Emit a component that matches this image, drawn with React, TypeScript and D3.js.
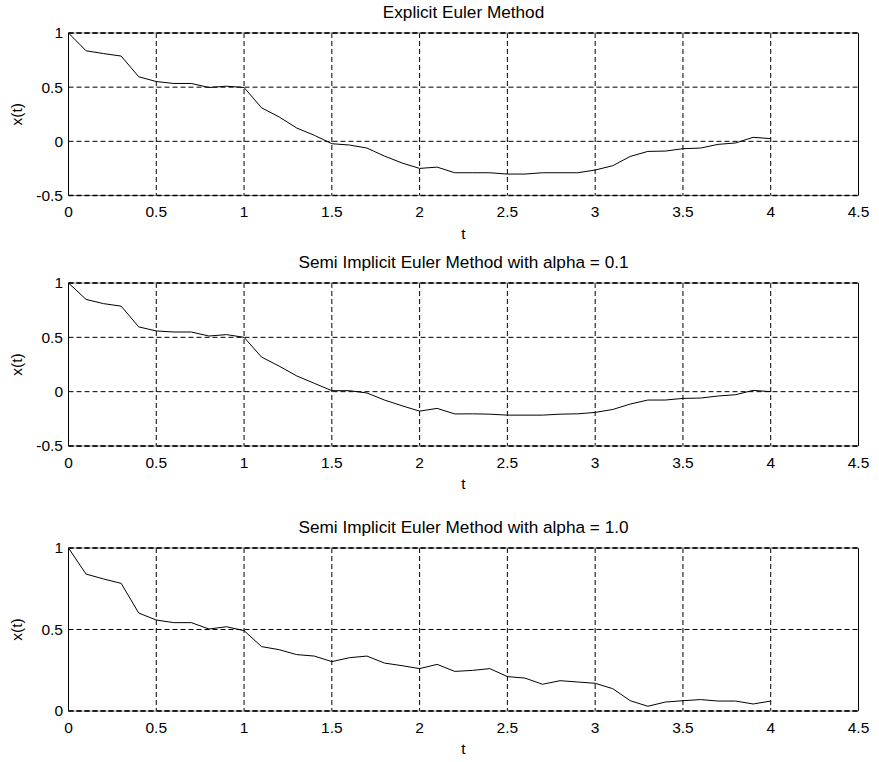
import React, { useEffect, useRef } from 'react';
import * as d3 from 'd3';

// time steps 0 .. 4.0 in steps of 0.1
const tValues = [
  0, 0.1, 0.2, 0.3, 0.4, 0.5, 0.6, 0.7, 0.8, 0.9,
  1.0, 1.1, 1.2, 1.3, 1.4, 1.5, 1.6, 1.7, 1.8, 1.9,
  2.0, 2.1, 2.2, 2.3, 2.4, 2.5, 2.6, 2.7, 2.8, 2.9,
  3.0, 3.1, 3.2, 3.3, 3.4, 3.5, 3.6, 3.7, 3.8, 3.9, 4.0
];

const explicitEuler = [
  1.0, 0.836, 0.81, 0.787, 0.596, 0.552, 0.534, 0.534, 0.497, 0.509,
  0.497, 0.309, 0.225, 0.123, 0.056, -0.022, -0.034, -0.062, -0.136, -0.2,
  -0.25, -0.238, -0.29, -0.29, -0.29, -0.302, -0.302, -0.29, -0.29, -0.29,
  -0.265, -0.225, -0.139, -0.093, -0.09, -0.068, -0.062, -0.028, -0.015, 0.037, 0.025
];

const semiImplicit01 = [
  1.0, 0.849, 0.81, 0.787, 0.596, 0.559, 0.549, 0.549, 0.512, 0.525,
  0.5, 0.318, 0.235, 0.145, 0.077, 0.009, 0.009, -0.012, -0.077, -0.13,
  -0.179, -0.154, -0.205, -0.204, -0.207, -0.216, -0.216, -0.216, -0.207, -0.204,
  -0.191, -0.164, -0.114, -0.077, -0.077, -0.062, -0.059, -0.04, -0.028, 0.012, 0.0
];

const semiImplicit10 = [
  1.0, 0.84, 0.81, 0.783, 0.601, 0.558, 0.542, 0.542, 0.503, 0.517,
  0.493, 0.395, 0.376, 0.346, 0.337, 0.303, 0.327, 0.337, 0.294, 0.278,
  0.26, 0.286, 0.243, 0.249, 0.26, 0.211, 0.202, 0.164, 0.186, 0.178,
  0.17, 0.137, 0.063, 0.029, 0.055, 0.063, 0.07, 0.061, 0.061, 0.043, 0.061
];

const xTicks = [0, 0.5, 1, 1.5, 2, 2.5, 3, 3.5, 4, 4.5];
const yTicksSigned = [-0.5, 0, 0.5, 1];
const yTicksPositive = [0, 0.5, 1];

const titles = [
  'Explicit Euler Method',
  'Semi Implicit Euler Method with alpha = 0.1',
  'Semi Implicit Euler Method with alpha = 1.0'
];

const App = () => {
  const svgRef = useRef<SVGSVGElement>(null);

  useEffect(() => {
    document.body.style.margin = '0';
    const svg = d3.select(svgRef.current);
    svg.selectAll('*').remove();

    const width = 879;
    const height = 762;
    svg.attr('width', width).attr('height', height);

    svg.append('rect').attr('width', width).attr('height', height).attr('fill', '#fff');

    const left = 68.5;
    const right = 858.5;
    const font = '"Liberation Sans", Arial, Helvetica, sans-serif';

    const panels = [
      { title: titles[0], values: explicitEuler, yDomain: [-0.5, 1], yTicks: yTicksSigned, top: 33, bottom: 195.5 },
      { title: titles[1], values: semiImplicit01, yDomain: [-0.5, 1], yTicks: yTicksSigned, top: 283, bottom: 446 },
      { title: titles[2], values: semiImplicit10, yDomain: [0, 1], yTicks: yTicksPositive, top: 548, bottom: 711 }
    ];

    const x = d3.scaleLinear().domain([0, 4.5]).range([left, right]);

    panels.forEach(p => {
      const y = d3.scaleLinear().domain(p.yDomain).range([p.bottom, p.top]);
      const g = svg.append('g');

      // dashed grid
      g.selectAll('.vgrid')
        .data(xTicks)
        .enter()
        .append('line')
        .attr('x1', d => x(d))
        .attr('x2', d => x(d))
        .attr('y1', p.top)
        .attr('y2', p.bottom)
        .attr('stroke', '#000')
        .attr('stroke-width', 1)
        .attr('stroke-dasharray', '5,3');

      g.selectAll('.hgrid')
        .data(p.yTicks)
        .enter()
        .append('line')
        .attr('x1', left)
        .attr('x2', right)
        .attr('y1', d => y(d))
        .attr('y2', d => y(d))
        .attr('stroke', '#000')
        .attr('stroke-width', 1)
        .attr('stroke-dasharray', '5,3');

      // box (left and right solid)
      g.append('line')
        .attr('x1', left).attr('x2', left)
        .attr('y1', p.top).attr('y2', p.bottom)
        .attr('stroke', '#000').attr('stroke-width', 1);
      g.append('line')
        .attr('x1', right).attr('x2', right)
        .attr('y1', p.top).attr('y2', p.bottom)
        .attr('stroke', '#000').attr('stroke-width', 1);
      [p.top, p.bottom].forEach(yy => {
        g.append('line')
          .attr('x1', left).attr('x2', right)
          .attr('y1', yy).attr('y2', yy)
          .attr('stroke', '#888').attr('stroke-width', 1);
        g.append('line')
          .attr('x1', left).attr('x2', right)
          .attr('y1', yy).attr('y2', yy)
          .attr('stroke', '#000').attr('stroke-width', 1.3)
          .attr('stroke-dasharray', '5,3');
      });

      // data line
      const line = d3.line<number>()
        .x((d, i) => x(tValues[i]))
        .y(d => y(d));

      g.append('path')
        .datum(p.values)
        .attr('d', line)
        .attr('fill', 'none')
        .attr('stroke', '#000')
        .attr('stroke-width', 1);

      // tick labels
      g.selectAll('.xlab')
        .data(xTicks)
        .enter()
        .append('text')
        .attr('x', d => x(d))
        .attr('y', p.bottom + 21.5)
        .attr('text-anchor', 'middle')
        .attr('font-family', font)
        .attr('font-size', 15.5)
        .attr('fill', '#000')
        .text(d => String(d));

      g.selectAll('.ylab')
        .data(p.yTicks)
        .enter()
        .append('text')
        .attr('x', left - 5.5)
        .attr('y', d => y(d) + 5.4)
        .attr('text-anchor', 'end')
        .attr('font-family', font)
        .attr('font-size', 15.5)
        .attr('fill', '#000')
        .text(d => String(d));

      // axis labels + title
      g.append('text')
        .attr('x', (left + right) / 2)
        .attr('y', p.bottom + 43)
        .attr('text-anchor', 'middle')
        .attr('font-family', font)
        .attr('font-size', 15.5)
        .attr('fill', '#000')
        .text('t');

      g.append('text')
        .attr('transform', `translate(21.5, ${(p.top + p.bottom) / 2}) rotate(-90)`)
        .attr('text-anchor', 'middle')
        .attr('font-family', font)
        .attr('font-size', 15.5)
        .attr('fill', '#000')
        .text('x(t)');

      g.append('text')
        .attr('x', (left + right) / 2)
        .attr('y', p.top - 15)
        .attr('text-anchor', 'middle')
        .attr('font-family', font)
        .attr('font-size', 17.2)
        .attr('fill', '#000')
        .text(p.title);
    });
  }, []);

  return <svg ref={svgRef} style={{ display: 'block' }}></svg>;
};

export default App;
